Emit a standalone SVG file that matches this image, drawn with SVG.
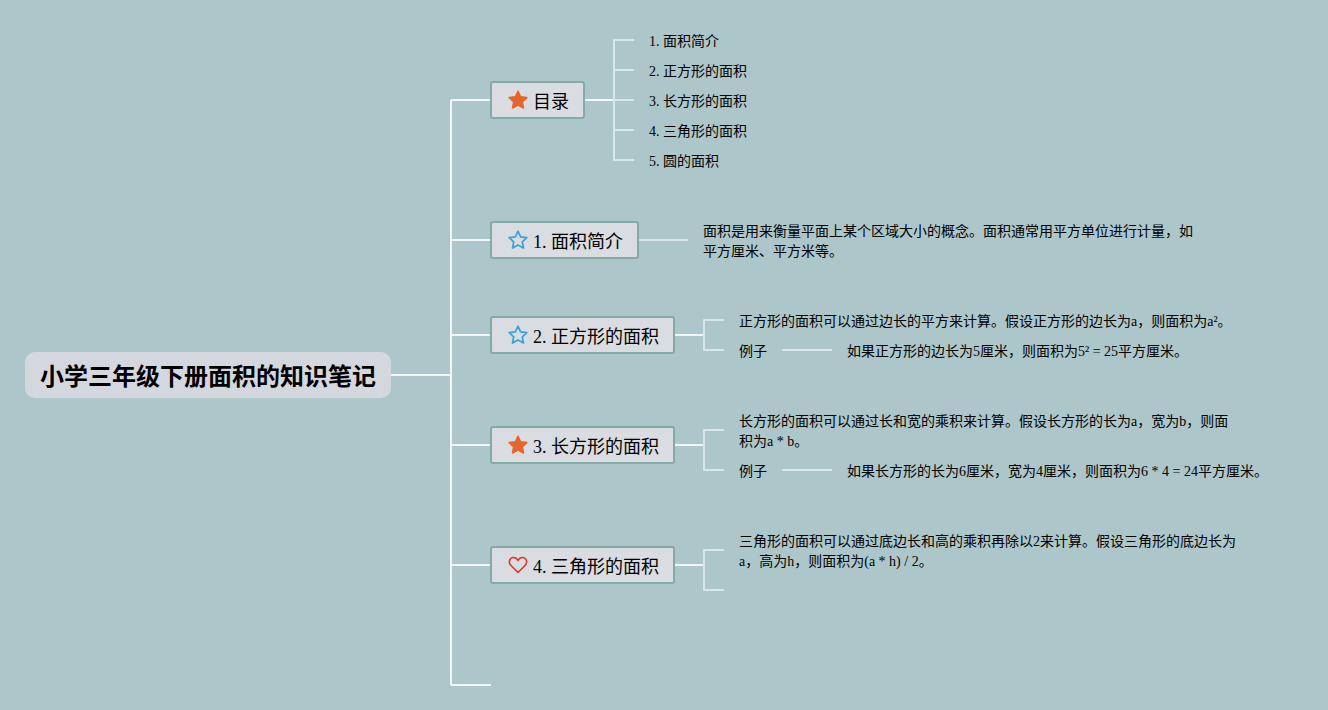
<svg xmlns="http://www.w3.org/2000/svg" width="1328" height="710" viewBox="0 0 1328 710">
<style>
text{font-family:"Liberation Serif","Noto Sans CJK SC",serif;fill:#000}
.t{font-size:14px}
.n{font-size:18px}
.box{fill:#d9dce0;stroke:#84aaa6;stroke-width:2}
.c{fill:none;stroke-linejoin:round}
.a{stroke:#f2f6f6;stroke-width:2}
.b{stroke:#d8e8ea;stroke-width:2}
.sf{fill:#e5652e;stroke:#e5652e;stroke-width:1.5;stroke-linejoin:round}
.so{fill:none;stroke:#36a3e0;stroke-width:1.7;stroke-linejoin:round}
</style>
<defs>
<path id="star" d="M0-8.8L2.6-3.2 8.8-2.4 4.3 1.9 5.5 8 0 5-5.5 8-4.3 1.9-8.8-2.4-2.6-3.2Z"/>
</defs>
<rect width="1328" height="710" fill="#acc6ca"/>
<g id="connectors">
<path class="c a" d="M391 375H451M451 100V685M451 100H491M451 240H491M451 335H491M451 445H491M451 565H491M451 685H491"/>
<path class="c a" d="M585 100H614M675 335H704M675 445H704M675 565H704"/>
<path class="c b" d="M634 40H614V160H634M614 70H634M614 100H634M614 130H634M614 160H634"/>
<path class="c b" d="M639 240H688"/>
<path class="c b" d="M724 320H704V350H724"/>
<path class="c b" d="M782 350H832"/>
<path class="c b" d="M724 430H704V470H724"/>
<path class="c b" d="M782 470H832"/>
<path class="c b" d="M724 550H704V590H724"/>
</g>
<g id="root">
<rect x="25" y="352" width="366" height="46" rx="10" fill="#d4d8de"/>
<text x="40" y="385" font-size="24" font-weight="700">小学三年级下册面积的知识笔记</text>
</g>
<g id="toc">
<rect class="box" x="491" y="82" width="93" height="36" rx="2"/>
<use href="#star" x="518" y="100" class="sf"/>
<text class="n" x="533" y="108">目录</text>
</g>
<g id="toc-items">
<text class="t" x="649" y="46">1. 面积简介</text>
<text class="t" x="649" y="76">2. 正方形的面积</text>
<text class="t" x="649" y="106">3. 长方形的面积</text>
<text class="t" x="649" y="136">4. 三角形的面积</text>
<text class="t" x="649" y="166">5. 圆的面积</text>
</g>
<g id="n1">
<rect class="box" x="491" y="222" width="147" height="36" rx="2"/>
<use href="#star" x="518" y="240" class="so"/>
<text class="n" x="533" y="248">1. 面积简介</text>
</g>
<g id="n1-text">
<text class="t" x="703" y="236">面积是用来衡量平面上某个区域大小的概念。面积通常用平方单位进行计量，如</text>
<text class="t" x="703" y="256">平方厘米、平方米等。</text>
</g>
<g id="n2">
<rect class="box" x="491" y="317" width="183" height="36" rx="2"/>
<use href="#star" x="518" y="335" class="so"/>
<text class="n" x="533" y="343">2. 正方形的面积</text>
</g>
<g id="n2-text">
<text class="t" x="739" y="326">正方形的面积可以通过边长的平方来计算。假设正方形的边长为a，则面积为a²。</text>
<text class="t" x="739" y="356">例子</text>
<text class="t" x="847" y="356">如果正方形的边长为5厘米，则面积为5² = 25平方厘米。</text>
</g>
<g id="n3">
<rect class="box" x="491" y="427" width="183" height="36" rx="2"/>
<use href="#star" x="518" y="445" class="sf"/>
<text class="n" x="533" y="453">3. 长方形的面积</text>
</g>
<g id="n3-text">
<text class="t" x="739" y="426">长方形的面积可以通过长和宽的乘积来计算。假设长方形的长为a，宽为b，则面</text>
<text class="t" x="739" y="446">积为a * b。</text>
<text class="t" x="739" y="476">例子</text>
<text class="t" x="847" y="476">如果长方形的长为6厘米，宽为4厘米，则面积为6 * 4 = 24平方厘米。</text>
</g>
<g id="n4">
<rect class="box" x="491" y="547" width="183" height="36" rx="2"/>
<path d="M518 572.5L511 565.5C508 562.5 509.5 558 513 557.5C515.5 557.2 517 558.5 518 560.5C519 558.5 520.5 557.2 523 557.5C526.5 558 528 562.5 525 565.5Z" fill="none" stroke="#d8392c" stroke-width="1.6" stroke-linejoin="round"/>
<text class="n" x="533" y="573">4. 三角形的面积</text>
</g>
<g id="n4-text">
<text class="t" x="739" y="546">三角形的面积可以通过底边长和高的乘积再除以2来计算。假设三角形的底边长为</text>
<text class="t" x="739" y="566">a，高为h，则面积为(a * h) / 2。</text>
</g>
</svg>
